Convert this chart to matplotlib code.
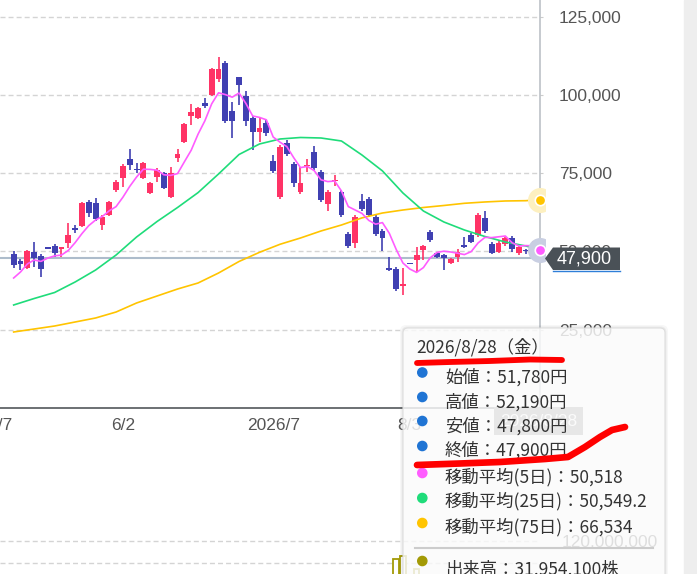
import numpy as np
import matplotlib
matplotlib.use('Agg')
import matplotlib.pyplot as plt
from matplotlib.patches import FancyBboxPatch, Circle, Polygon, Rectangle
from matplotlib.lines import Line2D
from matplotlib.transforms import IdentityTransform, Bbox, blended_transform_factory

W, H = 697, 574

# daily candles (left to right), yen
opens = [49170, 46940, 44700, 49810, 48530, 51150, 51730, 50770, 52680, 57470,
         58110, 65780, 65460, 58430, 61620, 69610, 73440, 79510, 76310, 73440,
         68650, 73760, 75040, 67370, 79830, 84930, 93240, 92600, 97390, 99940,
         105050, 110160, 94830, 105690, 99620, 92600, 88130, 91000, 78870, 67370,
         84610, 77910, 68970, 77270, 81740, 75350, 65140, 72480, 68970, 55560,
         52680, 66100, 66730, 60990, 56520, 44700, 44380, 39110, 46140, 47260,
         50450, 56200, 49490, 48850, 46300, 48210, 52050, 55240, 55240, 60670,
         52370, 49810, 52370, 54280, 49490, 50450, 52200, 51780]
highs = [50130, 47580, 50450, 53000, 49170, 51200, 52370, 51500, 59070, 58430,
         65780, 66410, 67050, 61620, 66100, 72800, 77910, 82700, 78230, 78550,
         72160, 76630, 75350, 76950, 82700, 91000, 97070, 96110, 98980, 108560,
         112070, 110800, 97710, 105690, 101220, 93240, 92600, 91960, 80780, 83980,
         85570, 78550, 76950, 79510, 83660, 75990, 69610, 74400, 69610, 56200,
         61620, 68330, 67370, 61620, 57150, 48210, 45020, 44700, 46300, 51410,
         52050, 56840, 49810, 49170, 47900, 50770, 54600, 55880, 62260, 62900,
         53000, 53320, 54600, 54920, 51730, 50770, 53320, 52190]
lows = [44700, 44060, 44380, 45020, 41830, 50900, 48210, 48210, 51090, 55880,
        57790, 60990, 59710, 56840, 61300, 68970, 70570, 75990, 75040, 73120,
        68330, 72160, 69930, 67050, 78550, 84610, 90360, 92280, 95790, 99620,
        104100, 91000, 86210, 96750, 90040, 82380, 84930, 86850, 75040, 66730,
        80460, 70570, 68330, 75350, 75990, 65780, 62900, 70880, 60990, 51090,
        51090, 62900, 60990, 54920, 50130, 43740, 37360, 36080, 45820, 43420,
        47260, 53000, 47900, 44060, 45980, 46620, 51090, 52680, 54600, 55880,
        49170, 49490, 51730, 49810, 48850, 49170, 51400, 47800]
closes = [45660, 45980, 50130, 47900, 44380, 51000, 49490, 51410, 55240, 56840,
          65460, 62260, 60350, 60990, 65780, 72160, 77270, 77590, 76000, 78230,
          71840, 75990, 70250, 75040, 81100, 90680, 94510, 95790, 96430, 108240,
          108240, 91640, 91640, 103130, 91640, 88130, 89400, 87810, 75670, 83340,
          81100, 71840, 71840, 77590, 76630, 66410, 68970, 72800, 61620, 51730,
          60990, 63540, 61620, 55560, 54280, 44060, 38000, 39590, 45980, 48850,
          51730, 53640, 48210, 47900, 47580, 49810, 51410, 53000, 61620, 56520,
          49490, 52680, 54280, 50770, 51410, 50130, 52380, 47900]
prior_closes = [36430, 37330, 41500, 46630]   # the 4 days before the view, for MA5

ma_idx = list(range(0, 76, 3)) + [77]
ma25 = [32890, 34960, 36880, 40230, 44060, 48850, 54600, 59550, 64020, 68770,
        74720, 80940, 84300, 85890, 86370, 86210, 85250, 80780, 75700, 68650,
        62900, 59390, 56840, 54760, 53000, 51730, 50549.2]
ma75 = [24270, 25220, 26180, 27460, 28740, 30650, 33530, 35760, 37990, 39910,
        43100, 46780, 49710, 52270, 54280, 56520, 58430, 60700, 62260, 63220,
        64020, 64660, 65360, 65780, 66100, 66190, 66534]

vol_idx = [56, 57, 59, 77]
volumes = [103600000, 106400000, 94500000, 31954100]

tick_pos = [-2, 16, 38, 58]
tick_labels = ['5/7', '6/2', '2026/7', '8/3']
price_ticks = [25000, 50000, 75000, 100000, 125000]

last_date = '2026/8/28'
last_weekday = '金'

UP = '#ff3366'
DOWN = '#4040b2'
MA5_C = '#ff5cff'
MA25_C = '#1fdc7a'
MA75_C = '#ffc400'
OLIVE = '#a39a05'
LABEL_C = '#555555'
CJK = ['Noto Sans CJK JP', 'DejaVu Sans']

plt.rcParams['font.family'] = ['Liberation Sans', 'DejaVu Sans']

all_c = np.array(prior_closes + closes, dtype=float)
ma5 = np.convolve(all_c, np.ones(5) / 5, mode='valid')

fig = plt.figure(figsize=(W / 100, H / 100), dpi=100)
pix = IdentityTransform()

# price panel
step = 535.5 / 77
ax = fig.add_axes([0, 1 - 408 / H, 540 / W, 408 / H])
ax.set_xlim(-4 / step, 536 / step)
ax.set_ylim(0, 130270)
for s in ['top', 'left']:
    ax.spines[s].set_visible(False)
ax.spines['bottom'].set_color('#606468')
ax.spines['bottom'].set_linewidth(1.3)
ax.spines['right'].set_color('#b7bcc2')
ax.spines['right'].set_linewidth(1.1)
ax.yaxis.tick_right()
ax.set_yticks(price_ticks, labels=[f'{v:,}' for v in price_ticks])
ax.tick_params(axis='y', length=2, color='#cccccc', pad=11.5, labelsize=12.5, labelcolor=LABEL_C)
ax.set_xticks(tick_pos, labels=tick_labels)
ax.tick_params(axis='x', length=0, pad=7.5, labelsize=12.5, labelcolor=LABEL_C)
ax.grid(axis='y', ls=(0, (3.6, 2.2)), color='#d4d4d4', lw=1)
ax.set_axisbelow(True)

idx = np.arange(len(closes))
o = np.array(opens, dtype=float)
c = np.array(closes, dtype=float)
colors = np.where(c >= o, UP, DOWN)
body_h = np.maximum(np.abs(c - o), 450)
body_lo = (o + c) / 2 - body_h / 2

ax.axhline(closes[-1], color='#adbccb', lw=1.5, zorder=1)
ax.vlines(idx, lows, highs, colors=colors, lw=1.2, zorder=3)
ax.bar(idx, body_h, bottom=body_lo, width=0.86, color=colors, zorder=4)

ax.plot(ma_idx, ma75, color=MA75_C, lw=1.2, zorder=5)
ax.plot(ma_idx, ma25, color=MA25_C, lw=1.2, zorder=5)
ax.plot(idx, ma5, color=MA5_C, lw=1.2, zorder=5)

clip = Bbox([[0, 0], [545, H]])
for val, halo, dot in [(ma75[-1], '#fdf0c0', MA75_C), (ma5[-1], '#c9cfe2', MA5_C)]:
    h, = ax.plot(idx[-1], val, 'o', ms=17, color=halo, zorder=6)
    d, = ax.plot(idx[-1], val, 'o', ms=7.5, color=dot, mec='white', mew=1.2, zorder=7)
    for art in (h, d):
        art.set_clip_box(clip)

# crosshair date label on the time axis (sits under the tooltip)
bt = blended_transform_factory(ax.transData, ax.transAxes)
ax.text(idx[-1] - 0.1, -0.032, last_date, transform=bt, ha='center', va='center',
        color='white', fontsize=12.5, clip_on=False, zorder=5,
        bbox=dict(boxstyle='square,pad=0.35', fc='#8a8a8a', ec='none'))

# volume panel, mostly below the visible area
axv = fig.add_axes([0, 1 - 673 / H, 540 / W, 133.1 / H])
axv.set_xlim(ax.get_xlim())
axv.set_ylim(0, 121e6)
for s in axv.spines.values():
    s.set_visible(False)
axv.yaxis.tick_right()
axv.set_yticks([100e6, 120e6], labels=['', '120,000,000'])
axv.tick_params(axis='y', length=0, pad=15.5, labelsize=12.5, labelcolor=LABEL_C)
axv.set_xticks([])
axv.grid(axis='y', ls=(0, (3.6, 2.2)), color='#d4d4d4', lw=1)
axv.set_axisbelow(True)
axv.bar(vol_idx, volumes, width=0.8, facecolor='white', edgecolor=OLIVE, lw=1.3)

# right scrollbar strip
fig.add_artist(Rectangle((684, 0), 13, H, transform=pix, color='#eeeeee', zorder=1))

# last price tag
tag = Polygon([(545, H - 258.5), (553, H - 247.5), (620, H - 247.5),
               (620, H - 270), (553, H - 270)], closed=True, transform=pix,
              fc='#4a5157', ec='none', zorder=5)
fig.add_artist(tag)
fig.add_artist(Line2D([553, 620], [H - 270.5, H - 270.5], transform=pix,
                      color='#2f7fd8', lw=1, zorder=6))
fig.text(584.5 / W, 1 - 258.5 / H, f'{closes[-1]:,}', ha='center', va='center',
         color='white', fontsize=13, zorder=6)

# tooltip
for grow, a in [(3, 0.03), (1.5, 0.05)]:
    fig.add_artist(FancyBboxPatch((403 - grow, -30 - grow), 262 + 2 * grow, H - 328 + 30 + 2 * grow,
                                  boxstyle='round,pad=0,rounding_size=6', transform=pix,
                                  fc='black', ec='none', alpha=a, zorder=9))
fig.add_artist(FancyBboxPatch((403, -30), 262, H - 328 + 30,
                              boxstyle='round,pad=0,rounding_size=5', transform=pix,
                              fc=(1, 1, 1, 0.82), ec='#dedede', lw=0.8, zorder=10))

fig.text(416 / W, 1 - 353 / H, f'{last_date}（{last_weekday}）', family=CJK,
         fontsize=12.5, color='#333333', va='baseline', zorder=11)
rows = [
    ('#1f74d4', f'始値：{opens[-1]:,}円', 372.5, 383),
    ('#1f74d4', f'高値：{highs[-1]:,}円', 397, 407.5),
    ('#1f74d4', f'安値：{lows[-1]:,}円', 421, 432),
    ('#1f74d4', f'終値：{closes[-1]:,}円', 446, 456),
    (MA5_C, f'移動平均(5日)：{ma5[-1]:,.0f}', 473, 482.5),
    (MA25_C, f'移動平均(25日)：{ma25[-1]:,.1f}', 498, 506.5),
    (MA75_C, f'移動平均(75日)：{ma75[-1]:,.0f}', 523, 532),
    (OLIVE, f'出来高：{volumes[-1]:,}株', 561, 575),
]
for col, txt, yb, yt in rows:
    fig.add_artist(Circle((422.3, H - yb), 4.6, transform=pix, color=col, zorder=11))
    fig.text(445 / W, 1 - yt / H, txt, family=CJK, fontsize=12.5, color='#333333',
             va='baseline', zorder=11)
fig.add_artist(Line2D([415, 653], [H - 548, H - 548], transform=pix,
                      color='#cccccc', lw=1.5, zorder=11))

# red hand-drawn marks
mark1 = [(417, 363), (450, 362), (490, 361), (530, 359.5), (562, 360)]
mark2 = [(417, 465), (460, 463.5), (500, 462), (545, 459), (568, 457),
         (585, 447), (600, 437), (612, 430), (625, 427)]
for pts, lw in [(mark1, 4.2), (mark2, 4.8)]:
    xs = [p[0] for p in pts]
    ys = [H - p[1] for p in pts]
    fig.add_artist(Line2D(xs, ys, transform=pix, color='#ff0000', lw=lw,
                          solid_capstyle='round', solid_joinstyle='round', zorder=12))

fig.savefig('out.png', dpi=100)
